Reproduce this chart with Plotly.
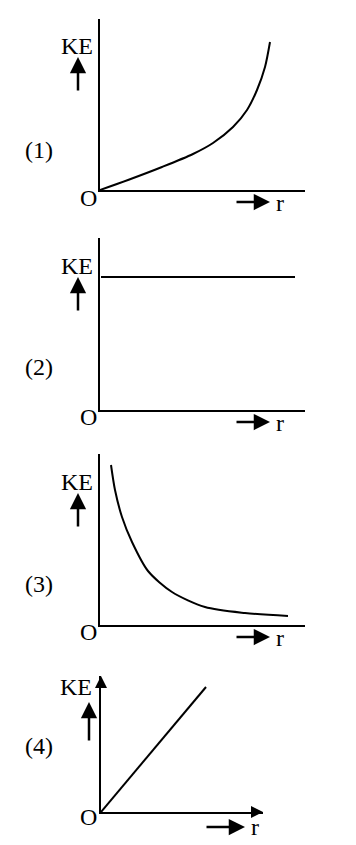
import plotly.graph_objects as go

W, H = 356, 845

# ---- data (arbitrary units) ----
r1 = [0, 28, 62, 93, 113, 133, 147, 157, 165, 170]
ke1 = [0, 10, 23, 36, 47, 63, 80, 100, 123, 148]

r2 = [1, 195]
ke2 = [133, 133]

r3 = [11, 15, 22, 32, 48, 72, 105, 145, 188]
ke3 = [160, 135, 108, 83, 54, 33, 18, 12, 9]

r4 = [0, 105]
ke4 = [0, 125]

panel_labels = ["(1)", "(2)", "(3)", "(4)"]
y_label = "KE"
x_label = "r"
origin_label = "O"

# ---- layout geometry (pixels) ----
# (origin_x, origin_y, x_len, y_len)
panels = [
    (100, 190, 205, 171),
    (100, 410, 205, 172),
    (100, 625, 205, 171),
    (101, 812, 162, 136),
]
series = [(r1, ke1), (r2, ke2), (r3, ke3), (r4, ke4)]

def px(x):
    return x / W

def py(y):
    return 1 - y / H

FONT = "Liberation Serif"
fig = go.Figure()
annotations = []

# label positions per panel (pixels)
label_pos = [
    dict(ke=(77, 46), up=(78, 57, 35), num=(39, 150), O=(88, 198), rarr=(270, 202, 35), r=(280, 203)),
    dict(ke=(77, 266), up=(78, 277, 35), num=(39, 367), O=(88, 417), rarr=(270, 422, 35), r=(280, 423)),
    dict(ke=(77, 482), up=(78, 493, 35), num=(39, 584), O=(88, 632), rarr=(270, 637, 35), r=(280, 638)),
    dict(ke=(76, 687), up=(89, 702, 40), num=(39, 746), O=(88, 817), rarr=(245, 827, 40), r=(255, 827)),
]

for i, ((ox, oy, lx, ly), (xs, ys)) in enumerate(zip(panels, series)):
    n = "" if i == 0 else str(i + 1)
    xa = "x" + n
    ya = "y" + n
    fig.add_trace(go.Scatter(
        x=xs, y=ys, mode="lines", xaxis=xa, yaxis=ya,
        line=dict(color="black", width=2, shape="spline", smoothing=0.8),
        showlegend=False, hoverinfo="skip", cliponaxis=False,
    ))
    common = dict(showgrid=False, zeroline=False, showticklabels=False, ticks="",
                  showline=True, linecolor="black", linewidth=2, fixedrange=True)
    fig.update_layout(**{
        "xaxis" + n: dict(domain=[px(ox), px(ox + lx)], range=[0, lx], anchor=ya, **common),
        "yaxis" + n: dict(domain=[py(oy), py(oy - ly)], range=[0, ly], anchor=xa, **common),
    })

    lp = label_pos[i]
    txt = dict(font=dict(family=FONT, size=24, color="black"), showarrow=False,
               xref="paper", yref="paper", xanchor="center", yanchor="middle")
    annotations.append(dict(text=y_label, x=px(lp["ke"][0]), y=py(lp["ke"][1]), **txt))
    annotations.append(dict(text=panel_labels[i], x=px(lp["num"][0]), y=py(lp["num"][1]), **txt))
    annotations.append(dict(text=origin_label, x=px(lp["O"][0]), y=py(lp["O"][1]), **txt))
    annotations.append(dict(text=x_label, x=px(lp["r"][0]), y=py(lp["r"][1]), **txt))
    # up arrow beside KE
    ux, uy, ulen = lp["up"]
    annotations.append(dict(text="", x=px(ux), y=py(uy), xref="paper", yref="paper",
                            ax=0, ay=ulen, axref="pixel", ayref="pixel", showarrow=True,
                            arrowhead=2, arrowsize=1.3, arrowwidth=2.5, arrowcolor="black",
                            standoff=0))
    # right arrow beside r
    rx, ry, rlen = lp["rarr"]
    annotations.append(dict(text="", x=px(rx), y=py(ry), xref="paper", yref="paper",
                            ax=-rlen, ay=0, axref="pixel", ayref="pixel", showarrow=True,
                            arrowhead=2, arrowsize=1.3, arrowwidth=2.5, arrowcolor="black",
                            standoff=0))

# arrowheads on the axes of panel 4
annotations.append(dict(text="", x=panels[3][2], y=0, xref="x4", yref="y4",
                        ax=-10, ay=0, axref="pixel", ayref="pixel", showarrow=True,
                        arrowhead=2, arrowsize=1.2, arrowwidth=2, arrowcolor="black", standoff=0))
annotations.append(dict(text="", x=0, y=panels[3][3], xref="x4", yref="y4",
                        ax=0, ay=10, axref="pixel", ayref="pixel", showarrow=True,
                        arrowhead=2, arrowsize=1.2, arrowwidth=2, arrowcolor="black", standoff=0))

fig.update_layout(
    width=W, height=H, margin=dict(l=0, r=0, t=0, b=0),
    paper_bgcolor="white", plot_bgcolor="white",
    annotations=annotations, showlegend=False,
)

fig.write_html("out.html", config={"displayModeBar": False})
